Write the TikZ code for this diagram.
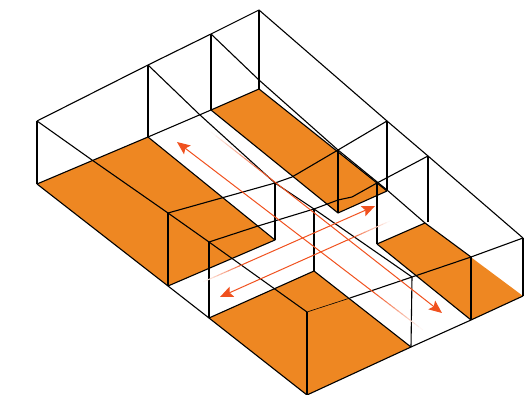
\documentclass[tikz,border=0pt]{standalone}
\usetikzlibrary{arrows.meta,calc}
\definecolor{floorc}{HTML}{EE8722}
\definecolor{arrowc}{HTML}{F0511E}
\tikzset{
  floorp/.style={fill=floorc,draw=none},
  wire/.style={draw=black,line width=1.1pt,line join=round},
  flow/.style={draw=arrowc,line width=1pt},
  flowhead/.style={-{Stealth[length=13pt,width=11pt,inset=2.5pt]}}
}
\newcommand{\fadeflow}[3]{% head, fade end, fraction
  \draw[flow,flowhead] ($(#2)!#3!(#1)$) -- (#1);
  \foreach \i in {0,...,11}{
    \pgfmathsetmacro{\pa}{#3*\i/12}
    \pgfmathsetmacro{\pb}{#3*(\i+1.1)/12}
    \pgfmathsetmacro{\pc}{(\i+0.5)*100/12}
    \draw[draw=arrowc!\pc!white,line width=1pt] ($(#2)!\pa!(#1)$) -- ($(#2)!\pb!(#1)$);
  }
}
\begin{document}
\begin{tikzpicture}[x=1pt,y=-1pt]
\useasboundingbox (0,0) rectangle (527,395);
% top corners
\coordinate (A) at (37,121); \coordinate (B) at (148,65);
\coordinate (C) at (211,34); \coordinate (D) at (259,10);
\coordinate (A0) at (37,184); \coordinate (B0) at (148,137);
\coordinate (C0) at (211,110); \coordinate (D0) at (259,89);
\coordinate (E) at (523,238); \coordinate (E0) at (523,296);
\coordinate (F) at (471,257); \coordinate (F0) at (471,320);
\coordinate (G) at (412,277); \coordinate (G0) at (411,347);
\coordinate (H) at (307,312); \coordinate (H0) at (307,395);
\coordinate (J) at (209,242); \coordinate (J0) at (209,318);
\coordinate (K) at (168,213); \coordinate (K0) at (168,286);
\coordinate (L) at (275,183); \coordinate (L0) at (275,240);
\coordinate (M) at (314,209); \coordinate (M0) at (314,271);
\coordinate (N) at (338,150); \coordinate (N0) at (338,213);
\coordinate (P) at (387,121); \coordinate (P0) at (387,191);
\coordinate (Q) at (377,183); \coordinate (Q0) at (377,244);
\coordinate (R) at (428,156); \coordinate (R0) at (425,223);
% floors
\fill[floorp] (A0)--(B0)--(L0)--(K0)--cycle;
\fill[floorp] (J0)--(M0)--(G0)--(H0)--cycle;
\fill[floorp] (C0)--(D0)--(P0)--(N0)--cycle;
\fill[floorp] (Q0)--(R0)--(E0)--(F0)--cycle;
% floor edges
\draw[wire] (A0)--(B0)--(C0)--(D0);
\draw[wire] (A0)--(K0)--(J0)--(H0)--(G0)--(F0)--(E0);
\draw[wire] (B0)--(L0)--(K0);
\draw[wire] (J0)--(M0)--(G0);
\draw[wire] (C0)--(N0)--(P0);
\draw[wire] (D0)--(P0);
\draw[wire] (Q0)--(R0);
\draw[wire] (Q0)--(F0);
% uprights
\foreach \t/\b in {A/A0,B/B0,C/C0,D/D0,E/E0,F/F0,G/G0,H/H0,J/J0,K/K0,L/L0,M/M0,N/N0,P/P0,Q/Q0}
  \draw[wire] (\t)--(\b);
\draw[wire] (R)--(428,222);
% top outline and long lines
\draw[wire] (A)--(B)--(C)--(D)--(P)--(R)--(E);
\draw[wire] (A)--(92,160)--(K)--(J)--(H);
\draw[wire] (B)--(200,115)--(L)--(M)--(G);
\draw[wire] (C)--(259,80)--(N)--(387,190)--(R0)--(F);
\draw[wire] (K)--(L)--(292,177)--(N)--(P);
\draw[wire] (J)--(258,226)--(M)--(N0 |- 0,200)--(352,197)--(Q)--(R);
\draw[wire,line width=0.6pt] (H)--(350,298);
\draw[wire] (350,298)--(G)--(F)--(E);
% arrows
\coordinate (a1) at (442,313); \coordinate (a1f) at (211,132);
\coordinate (a2) at (177,142); \coordinate (a2f) at (423,330);
\coordinate (a3) at (375,206); \coordinate (a3f) at (203,282);
\coordinate (a4) at (220,297); \coordinate (a4f) at (390,221);
\fadeflow{a1}{a1f}{0.25}
\fadeflow{a2}{a2f}{0.2}
\fadeflow{a3}{a3f}{0.25}
\fadeflow{a4}{a4f}{0.25}
\end{tikzpicture}
\end{document}
